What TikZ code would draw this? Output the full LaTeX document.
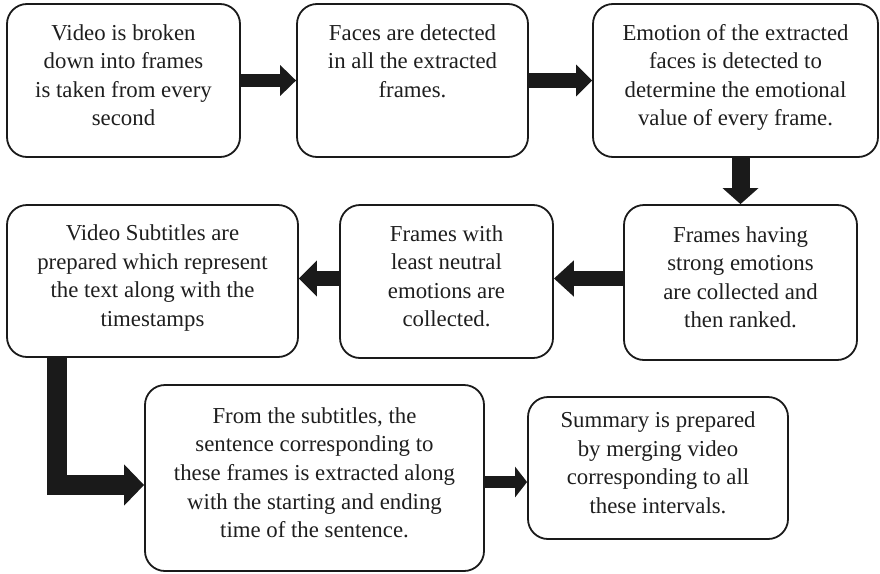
\documentclass[tikz,border=0pt]{standalone}
\usepackage{fontspec}
\setmainfont{Liberation Serif}
\usetikzlibrary{arrows.meta}
\definecolor{ink}{HTML}{1A1A1A}
\definecolor{txt}{HTML}{1E1E1E}
\begin{document}
\begin{tikzpicture}[x=1pt,y=-1pt,
  stepbox/.style={draw=ink, line width=1.8pt, rounded corners=20pt,
    align=center, inner sep=0pt, text=txt, text depth=11pt,
    font=\fontsize{22.8}{28.6}\selectfont},
  flow/.style={draw=ink, line width=#1, line join=miter},
  flow/.default=14pt,
  tip/.style 2 args={-{Triangle[length=#1, width=#2]}}
]
\useasboundingbox (0,0) rectangle (880,573);

% process boxes, row by row
\node[stepbox, minimum width=233pt, minimum height=153pt] (b1) at (123.5,80.5)
  {Video is broken\\down into frames\\is taken from every\\second};
\node[stepbox, minimum width=231pt, minimum height=153pt] (b2) at (412.5,80.5)
  {Faces are detected\\in all the extracted\\frames.\\\mbox{}};
\node[stepbox, minimum width=285pt, minimum height=153pt] (b3) at (735.5,80.5)
  {Emotion of the extracted\\faces is detected to\\determine the emotional\\value of every frame.};

\node[stepbox, minimum width=233pt, minimum height=155pt] (b4) at (740.5,282.5)
  {Frames having\\strong emotions\\are collected and\\then ranked.};
\node[stepbox, minimum width=213pt, minimum height=153pt] (b5) at (446.5,281.5)
  {Frames with\\least neutral\\emotions are\\collected.};
\node[stepbox, minimum width=291pt, minimum height=152pt] (b6) at (152.5,281)
  {Video Subtitles are\\prepared which represent\\the text along with the\\timestamps};

\node[stepbox, minimum width=339pt, minimum height=186pt] (b7) at (314.5,478)
  {From the subtitles, the\\sentence corresponding to\\these frames is extracted along\\with the starting and ending\\time of the sentence.};
\node[stepbox, minimum width=260pt, minimum height=142pt] (b8) at (658,468)
  {Summary is prepared\\by merging video\\corresponding to all\\these intervals.};

% connectors
\draw[flow=13pt, tip={16pt}{30pt}] (b1.east) -- (b2.west);
\draw[flow=15pt, tip={16pt}{31pt}] (b2.east) -- (b3.west);
\draw[flow=18pt, tip={16pt}{35pt}] (b3.south -| b4.north) -- (b4.north);
\draw[flow=15pt, tip={20pt}{35pt}] ([yshift=4pt]b4.west) -- ([yshift=4pt]b4.west -| b5.east);
\draw[flow=15pt, tip={18pt}{35pt}] ([yshift=3pt]b5.west) -- ([yshift=3pt]b5.west -| b6.east);

\coordinate (lstart) at ([xshift=51pt]b6.south west);
\draw[flow=20pt, tip={20pt}{40pt}] (lstart) |- ([yshift=-7pt]b7.west);

\draw[flow=12pt, tip={12pt}{30pt}] ([yshift=-4pt]b7.east) -- ([yshift=-4pt]b7.east -| b8.west);
\end{tikzpicture}
\end{document}
